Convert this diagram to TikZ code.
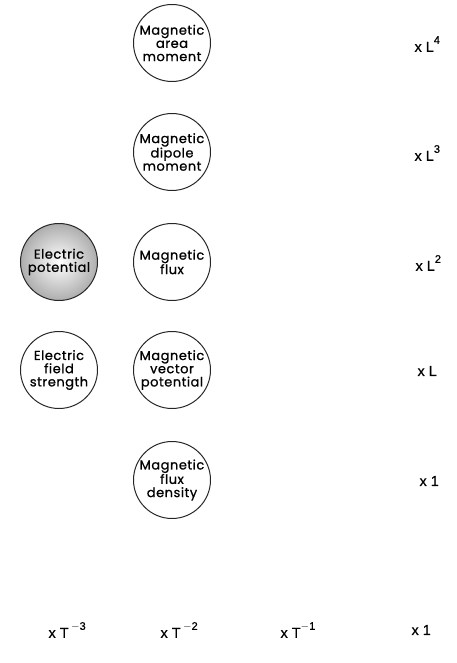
\documentclass[tikz,border=0pt]{standalone}
\usepackage{fontspec}
\newfontfamily\circfont{Poppins}[FakeBold=0.9,LetterSpace=4]
\newfontfamily\labfont{Liberation Sans}[FakeBold=0.6]
\newcommand{\sups}[1]{\raisebox{0.55em}{\fontsize{11}{11}\selectfont #1}}
\begin{document}
\begin{tikzpicture}[x=1pt,y=-1pt,
  qty/.style={circle,draw=black!85,line width=1pt,minimum size=77pt,inner sep=0pt,
    align=center,font=\circfont\fontsize{13}{13.2}\selectfont,text=black},
  shaded/.style={qty,inner color=white,outer color=black!32},
  dimlab/.style={font=\labfont\fontsize{14.5}{15}\selectfont,anchor=west}]
\useasboundingbox (0,0) rectangle (456,663);
\node[qty] (area) at (172,43) {Magnetic\\area\\moment};
\node[qty] (dipole) at (172,152) {Magnetic\\dipole\\moment};
\node[shaded] (epot) at (59,262) {Electric\\potential};
\node[qty] (flux) at (172,262) {Magnetic\\flux};
\node[qty] (efield) at (59,370) {Electric\\field\\strength};
\node[qty] (vpot) at (172,370) {Magnetic\\vector\\potential};
\node[qty] (fluxd) at (172,480) {Magnetic\\flux\\density};
\node[dimlab] (l4) at (411,44) {x L\sups{4}};
\node[dimlab] (l3) at (411,153) {x L\sups{3}};
\node[dimlab] (l2) at (412,263) {x L\sups{2}};
\node[dimlab] (l1) at (414,371) {x L};
\node[dimlab] (l0) at (416,481) {x 1};
\node[dimlab] (t3) at (45,630) {x T\,\sups{$-$3}};
\node[dimlab] (t2) at (157,630) {x T\,\sups{$-$2}};
\node[dimlab] (t1) at (277,630) {x T\sups{$-$1}};
\node[dimlab] (t0) at (408,630) {x 1};
\end{tikzpicture}
\end{document}
